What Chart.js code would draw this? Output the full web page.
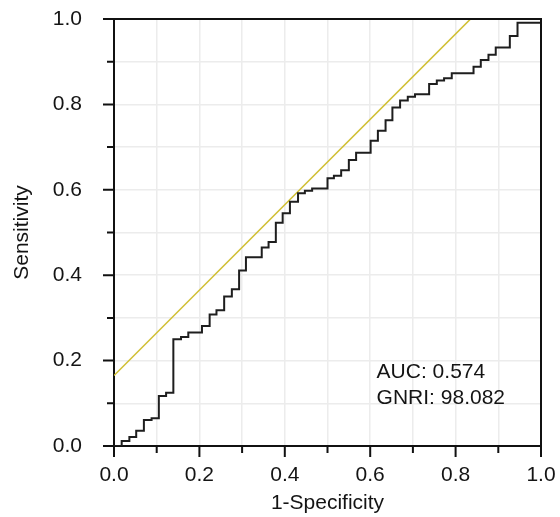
<!DOCTYPE html>
<html>
<head>
<meta charset="utf-8">
<script src="https://cdn.jsdelivr.net/npm/chart.js@4"></script>
<style>
  html, body { margin: 0; padding: 0; background: #fff; }
  #wrap { width: 560px; height: 517px; position: relative; }
</style>
</head>
<body>
<div id="wrap"><canvas id="roc"></canvas></div>
<script>
// ROC points (1-Specificity, Sensitivity)
const fpr = [0, 0.018, 0.036, 0.052, 0.070, 0.088, 0.105, 0.122, 0.139, 0.157, 0.174, 0.206, 0.224, 0.240,
  0.258, 0.276, 0.293, 0.309, 0.346, 0.362, 0.379, 0.395, 0.412, 0.431, 0.447, 0.464, 0.500, 0.515, 0.532,
  0.550, 0.567, 0.601, 0.618, 0.636, 0.652, 0.670, 0.688, 0.705, 0.738, 0.756, 0.773, 0.791, 0.842, 0.859,
  0.877, 0.894, 0.927, 0.945, 1.0];
const tpr = [0, 0.012, 0.021, 0.036, 0.061, 0.065, 0.117, 0.125, 0.250, 0.255, 0.266, 0.281, 0.308, 0.318,
  0.350, 0.367, 0.411, 0.442, 0.465, 0.478, 0.523, 0.545, 0.572, 0.592, 0.598, 0.603, 0.627, 0.633, 0.646,
  0.670, 0.687, 0.715, 0.738, 0.763, 0.793, 0.809, 0.818, 0.824, 0.848, 0.856, 0.861, 0.873, 0.888, 0.904,
  0.916, 0.933, 0.960, 0.991, 1.0];

// cut-off line
const refX = [0, 0.835];
const refY = [0.165, 1.0];

const tickValues = [0, 0.1, 0.2, 0.3, 0.4, 0.5, 0.6, 0.7, 0.8, 0.9, 1.0];
const notes = ['AUC: 0.574', 'GNRI: 98.082'];

const FONT = "'Liberation Sans', Arial, Helvetica, sans-serif";
const TXT = '#141414';

const toPts = (xs, ys) => xs.map((x, i) => ({ x, y: ys[i] }));
const label = v => {
  const k = Math.round(v * 10);
  return k % 2 === 0 ? (k / 10).toFixed(1) : '';
};

// outside tick marks (long for labelled, short for the rest), box border, text
const extras = {
  id: 'extras',
  afterDraw(chart) {
    const { ctx, chartArea: a, scales: { x, y } } = chart;
    ctx.save();
    ctx.strokeStyle = '#111';
    ctx.lineWidth = 2;
    ctx.beginPath();
    tickValues.forEach((v, i) => {
      const len = i % 2 === 0 ? 11 : 7;
      const px = x.getPixelForValue(v);
      ctx.moveTo(px, a.bottom); ctx.lineTo(px, a.bottom + len);
      const py = y.getPixelForValue(v);
      ctx.moveTo(a.left, py); ctx.lineTo(a.left - len, py);
    });
    ctx.stroke();
    // top and right frame
    ctx.beginPath();
    ctx.moveTo(a.left, a.top); ctx.lineTo(a.right, a.top); ctx.lineTo(a.right, a.bottom);
    ctx.stroke();

    ctx.fillStyle = TXT;
    ctx.font = '21px ' + FONT;
    ctx.textBaseline = 'alphabetic';
    const tx = x.getPixelForValue(0.615);
    ctx.fillText(notes[0], tx, y.getPixelForValue(0.159));
    ctx.fillText(notes[1], tx, y.getPixelForValue(0.098));
    ctx.restore();
  }
};

new Chart(document.getElementById('roc'), {
  type: 'scatter',
  data: {
    datasets: [
      { data: toPts(fpr, tpr), showLine: true, stepped: 'before', borderColor: '#1e1e1e', borderWidth: 2,
        pointRadius: 0, fill: false },
      { data: toPts(refX, refY), showLine: true, borderColor: '#d0bf34', borderWidth: 1.6,
        pointRadius: 0, fill: false }
    ]
  },
  options: {
    responsive: true,
    maintainAspectRatio: false,
    animation: false,
    layout: { padding: { top: 19, right: 19, left: 0, bottom: 0 } },
    plugins: { legend: { display: false }, tooltip: { enabled: false } },
    scales: {
      x: {
        type: 'linear', min: 0, max: 1,
        afterFit: s => { s.height = 71; s.paddingLeft = 0; s.paddingRight = 0; },
        afterBuildTicks: s => { s.ticks = tickValues.map(value => ({ value })); },
        ticks: { callback: label, autoSkip: false, maxRotation: 0, padding: 6, color: TXT,
          font: { family: FONT, size: 21 } },
        grid: { color: '#ececec', lineWidth: 1.5, drawTicks: true, tickLength: 11, tickColor: 'rgba(0,0,0,0)' },
        border: { color: '#111', width: 2 },
        title: { display: true, text: '1-Specificity', color: TXT, padding: { top: 0, bottom: 1 },
          font: { family: FONT, size: 21 } }
      },
      y: {
        type: 'linear', min: 0, max: 1,
        afterFit: s => { s.width = 114; s.paddingTop = 0; s.paddingBottom = 0; },
        afterBuildTicks: s => { s.ticks = tickValues.map(value => ({ value })); },
        ticks: { callback: label, autoSkip: false, padding: 21, color: TXT,
          font: { family: FONT, size: 21 } },
        grid: { color: '#ececec', lineWidth: 1.5, drawTicks: true, tickLength: 11, tickColor: 'rgba(0,0,0,0)' },
        border: { color: '#111', width: 2 },
        title: { display: true, text: 'Sensitivity', color: TXT, padding: { top: 10, bottom: 0 },
          font: { family: FONT, size: 21 } }
      }
    }
  },
  plugins: [extras]
});
</script>
</body>
</html>
